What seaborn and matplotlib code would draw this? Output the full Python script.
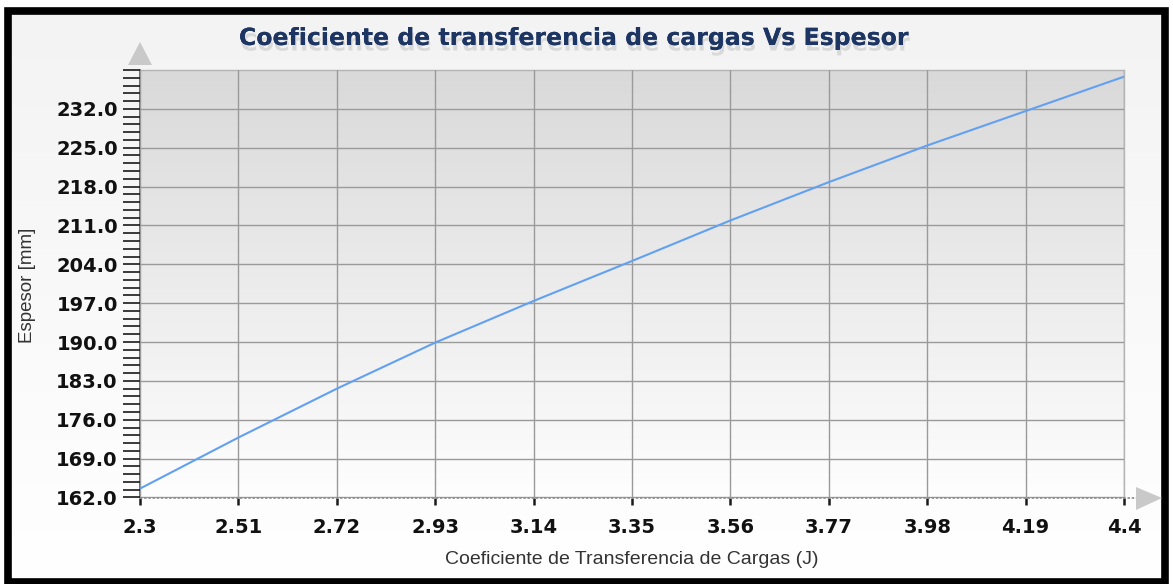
import numpy as np
import pandas as pd
import matplotlib
matplotlib.use("Agg")
import matplotlib.pyplot as plt
import seaborn as sns
from matplotlib.patches import Polygon, Rectangle
from matplotlib.ticker import FixedLocator
import matplotlib.patheffects as pe

# Data: load-transfer coefficient J vs slab thickness (mm)
coef_j = [2.30, 2.51, 2.72, 2.93, 3.14, 3.35, 3.56, 3.77, 3.98, 4.19, 4.40]
espesor_mm = [163.6, 172.8, 181.6, 189.9, 197.4, 204.6, 211.9, 218.8, 225.4, 231.6, 237.8]
x_ticks = [2.3, 2.51, 2.72, 2.93, 3.14, 3.35, 3.56, 3.77, 3.98, 4.19, 4.4]
x_tick_labels = ["2.3", "2.51", "2.72", "2.93", "3.14", "3.35", "3.56", "3.77", "3.98", "4.19", "4.4"]
y_ticks = [162.0, 169.0, 176.0, 183.0, 190.0, 197.0, 204.0, 211.0, 218.0, 225.0, 232.0]
y_tick_labels = ["162.0", "169.0", "176.0", "183.0", "190.0", "197.0", "204.0", "211.0", "218.0", "225.0", "232.0"]

title = "Coeficiente de transferencia de cargas Vs Espesor"
x_label = "Coeficiente de Transferencia de Cargas (J)"
y_label = "Espesor [mm]"

df = pd.DataFrame({"J": coef_j, "Espesor": espesor_mm})

sns.set_theme(style="white")
plt.rcParams["font.family"] = ["DejaVu Sans"]

W, H = 1173, 584
fig = plt.figure(figsize=(W / 100, H / 100), dpi=100)
fig.patch.set_facecolor("white")

def px(x, y):
    """pixel (top-left origin) -> figure inches"""
    return (x / 100.0, (H - y) / 100.0)

pt = fig.dpi_scale_trans

# Panel background: soft vertical gradient inside a black frame
bg_ax = fig.add_axes([0, 0, 1, 1], zorder=-10)
bg_ax.set_axis_off()
grad = np.linspace(0, 1, 256).reshape(-1, 1)
bg_cmap = matplotlib.colors.LinearSegmentedColormap.from_list("bg", ["#f3f3f3", "#ffffff"])
fx0, fx1 = 8 / W, 1165 / W
fy0, fy1 = 1 - 582 / H, 1 - 10.5 / H
bg_ax.imshow(grad, cmap=bg_cmap, aspect="auto", extent=[fx0, fx1, fy0, fy1],
             origin="upper")
bg_ax.set_xlim(0, 1)
bg_ax.set_ylim(0, 1)
bg_ax.add_patch(Rectangle((fx0, fy0), fx1 - fx0, fy1 - fy0, fill=False,
                          edgecolor="black", linewidth=5.5, transform=bg_ax.transAxes))

# Plot area
left, right, top, bottom = 140, 1124, 70, 497.5
ax = fig.add_axes([left / W, 1 - bottom / H, (right - left) / W, (bottom - top) / H])
ax.set_facecolor("none")
plot_cmap = matplotlib.colors.LinearSegmentedColormap.from_list("pa", ["#d9d9d9", "#fefefe"])
ax.imshow(grad, cmap=plot_cmap, aspect="auto", extent=[0, 1, 0, 1],
          transform=ax.transAxes, origin="upper", zorder=0)

sns.lineplot(data=df, x="J", y="Espesor", ax=ax, color="#62a0f2", linewidth=1.5,
             zorder=5, errorbar=None)

y_min, y_max = 162.0, 239.0
ax.set_xlim(2.3, 4.4)
ax.set_ylim(y_min, y_max)
ax.xaxis.set_major_locator(FixedLocator(x_ticks))
ax.set_xticklabels(x_tick_labels)
ax.yaxis.set_major_locator(FixedLocator(y_ticks))
ax.set_yticklabels(y_tick_labels)
# five minor divisions per 7 mm major step
ax.yaxis.set_minor_locator(FixedLocator(np.arange(y_min, y_max + 0.01, 1.4)))

ax.grid(True, which="major", color="#9a9a9a", linewidth=1.0, zorder=1)
ax.set_axisbelow(False)
for line in ax.get_xgridlines() + ax.get_ygridlines():
    line.set_zorder(1)

ax.tick_params(axis="y", which="both", direction="out", length=12, width=1.2,
               color="#1a1a1a", left=True, pad=4)
ax.tick_params(axis="x", which="major", direction="out", length=5, width=1.8,
               color="#1a1a1a", bottom=True, pad=10)
for lab in ax.get_xticklabels() + ax.get_yticklabels():
    lab.set_fontweight("bold")
    lab.set_fontsize(14)
    lab.set_color("#111111")

for side in ("top", "right"):
    ax.spines[side].set_color("#b4b4b4")
    ax.spines[side].set_linewidth(1.0)
ax.spines["left"].set_color("#555555")
ax.spines["left"].set_linewidth(1.2)
ax.spines["bottom"].set_visible(False)

ax.set_xlabel(x_label, fontsize=14, color="#333333", family="Liberation Sans")
ax.set_ylabel(y_label, fontsize=13.5, color="#333333", family="Liberation Sans")
ax.xaxis.set_label_coords(0.5, (bottom - 560) / (bottom - top))
ax.yaxis.set_label_coords((28 - left) / (right - left), (bottom - 285) / (bottom - top))
ax.xaxis.label.set_va("center")
ax.yaxis.label.set_va("center")

# Axis arrows and dotted baseline
fig.add_artist(Polygon([px(140, 42), px(128, 65), px(152, 65)], closed=True,
                       facecolor="#c9c9c9", edgecolor="none", transform=pt))
fig.add_artist(Polygon([px(1162, 498), px(1136, 487), px(1136, 510)], closed=True,
                       facecolor="#c9c9c9", edgecolor="none", transform=pt))
bx0, by = px(140, 497.5)
bx1, _ = px(1136, 497.5)
fig.add_artist(plt.Line2D([bx0, bx1], [by, by], color="#8c8c8c", linewidth=1.2,
                          linestyle=(0, (1.5, 1)), transform=pt, zorder=6))

# Title with a faint drop shadow
tx, ty = px(574, 38)
fig.text(tx, ty, title, transform=pt, ha="center", va="center", fontsize=17,
         fontweight="bold", color="#1d3563",
         path_effects=[pe.withSimplePatchShadow(offset=(1, -4), shadow_rgbFace="#a0a0a0", alpha=0.3),
                       pe.Normal()])

fig.savefig("out.png", dpi=100)
